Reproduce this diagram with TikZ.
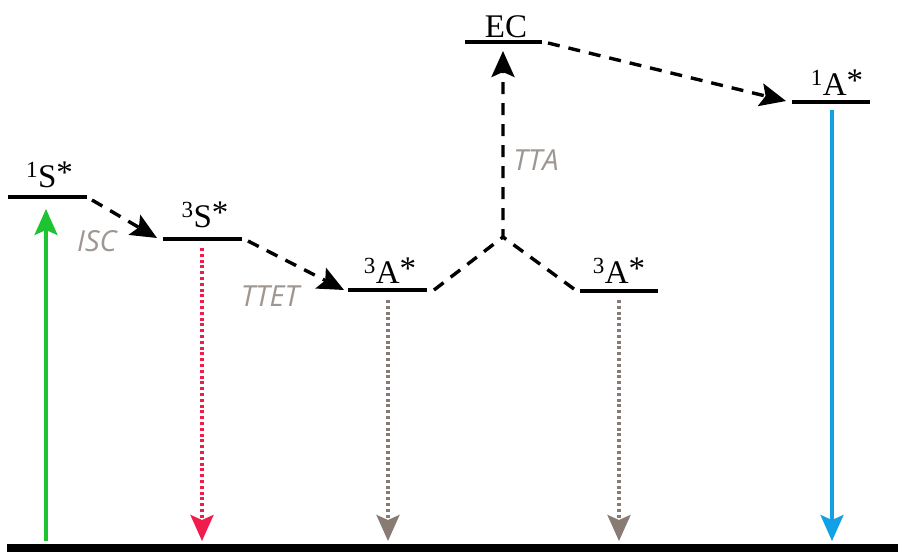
\documentclass[tikz,border=0pt]{standalone}
\usepackage{fontspec}
\setmainfont{Liberation Serif}
\newfontfamily\procfont{Open Sans}
\usetikzlibrary{arrows.meta}
\definecolor{procgray}{RGB}{158,150,145}
\definecolor{absgreen}{RGB}{30,195,50}
\definecolor{fluopink}{RGB}{240,28,76}
\definecolor{phosgray}{RGB}{135,123,115}
\definecolor{upblue}{RGB}{20,160,228}
% raised asterisk of the excited-state labels
\newcommand{\exstar}{\raisebox{3.5pt}{*}}
\begin{document}
\begin{tikzpicture}[x=1pt,y=-1pt,
  level/.style={line width=4.5pt},
  statelbl/.style={font=\fontsize{33}{33}\selectfont, inner sep=0pt, anchor=base},
  proclbl/.style={font=\procfont\itshape\fontsize{29}{29}\selectfont, text=procgray, inner sep=0pt},
  tiphead/.style={-{Stealth[length=26pt,width=23pt,inset=5pt]}},
  transfer/.style={line width=3.4pt, dash pattern=on 12pt off 9pt, tiphead},
  branch/.style={line width=3.4pt, dash pattern=on 12pt off 9pt},
  emit/.style={line width=3.4pt, dash pattern=on 3pt off 2.8pt, tiphead},
  radiative/.style={line width=3.2pt, tiphead}]
\useasboundingbox (0,0) rectangle (898,552);

% energy levels (end points)
\coordinate (s1l) at (8,197);   \coordinate (s1r) at (87,197);
\coordinate (s3l) at (163,239); \coordinate (s3r) at (242,239);
\coordinate (a3l) at (348,290); \coordinate (a3r) at (427,290);
\coordinate (b3l) at (580,291); \coordinate (b3r) at (658,291);
\coordinate (ecl) at (465,42);  \coordinate (ecr) at (542,42);
\coordinate (a1l) at (792,102); \coordinate (a1r) at (870,102);
\foreach \p in {s1,s3,a3,b3,ec,a1} \draw[level] (\p l) -- (\p r);

% ground state
\coordinate (gl) at (7,548); \coordinate (gr) at (900,548);
\draw[line width=9pt] (gl) -- (gr);

% level labels
\node[statelbl] (s1t) at (49.5,187) {\textsuperscript{1}S\exstar};
\node[statelbl] (s3t) at (205,227) {\textsuperscript{3}S\exstar};
\node[statelbl] (a3t) at (390,283) {\textsuperscript{3}A\exstar};
\node[statelbl] (b3t) at (619,283) {\textsuperscript{3}A\exstar};
\node[statelbl] (ect) at (506,37) {EC};
\node[statelbl] (a1t) at (837,95) {\textsuperscript{1}A\exstar};

% process labels
\node[proclbl] (isc) at (97,241) {ISC};
\node[proclbl] (ttet) at (270,296) {TTET};
\node[proclbl] (tta) at (536,160) {TTA};

% non-radiative transfers
\coordinate (iscA) at (92,200);  \coordinate (iscB) at (157,238);
\coordinate (ttetA) at (248,241); \coordinate (ttetB) at (344,290);
\coordinate (ttaL) at (434,290); \coordinate (ttaR) at (574,289);
\coordinate (junc) at (503,237); \coordinate (ttaTop) at (503,51);
\coordinate (ecA) at (548,43);   \coordinate (ecB) at (786,101);
\draw[transfer] (iscA) -- (iscB);
\draw[transfer] (ttetA) -- (ttetB);
\draw[branch] (ttaL) -- (junc);
\draw[transfer] (ttaR) -- (junc) -- (ttaTop);
\draw[transfer] (ecA) -- (ecB);

% absorption and emissions
\coordinate (absA) at (46,541);  \coordinate (absB) at (46,209);
\coordinate (flA) at (202,248);  \coordinate (flB) at (202,541);
\coordinate (phA) at (388,300);  \coordinate (phB) at (388,541);
\coordinate (phC) at (619,300);  \coordinate (phD) at (619,541);
\coordinate (upA) at (832,110);  \coordinate (upB) at (832,541);
\draw[radiative, absgreen] (absA) -- (absB);
\draw[emit, fluopink] (flA) -- (flB);
\draw[emit, phosgray] (phA) -- (phB);
\draw[emit, phosgray] (phC) -- (phD);
\draw[radiative, upblue] (upA) -- (upB);
\end{tikzpicture}
\end{document}
